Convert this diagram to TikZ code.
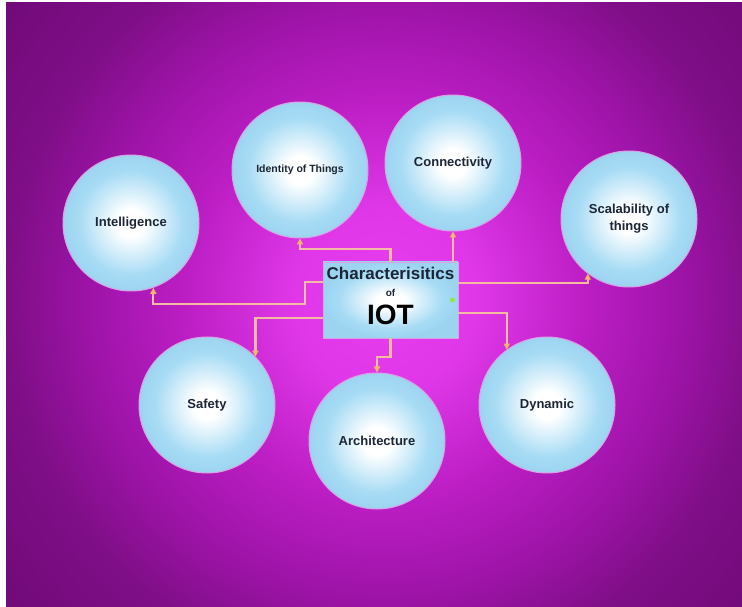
\documentclass[tikz,border=0pt]{standalone}
\usepackage{amsmath,tikz,tkz-euclide}
\usepackage{fontspec}
\setmainfont{Liberation Sans}
\usetikzlibrary{arrows.meta}
\definecolor{bgin}{HTML}{E63EEE}
\definecolor{bgnear}{HTML}{E038E9}
\definecolor{bgmid}{HTML}{BC1EC4}
\definecolor{bgedge}{HTML}{A014AA}
\definecolor{bgfar}{HTML}{7E0E86}
\definecolor{bgout}{HTML}{720A7A}
\definecolor{bubblue}{HTML}{A8DCF5}
\definecolor{bubdeep}{HTML}{9CD4F0}
\definecolor{bubedge}{HTML}{D8A2E4}
\definecolor{ink}{HTML}{1B2636}
\definecolor{linkcol}{HTML}{F5BBA2}
\definecolor{tipcol}{HTML}{F2B866}
\definecolor{dotgreen}{HTML}{8EE84A}
\pgfdeclareradialshading{bgglow}{\pgfpointorigin}{color(0bp)=(bgin); color(4bp)=(bgnear); color(8.9bp)=(bgmid); color(12.9bp)=(bgedge); color(17bp)=(bgfar); color(21.4bp)=(bgout); color(50bp)=(bgout)}
\pgfdeclareradialshading{bubshade}{\pgfpointorigin}{color(0bp)=(white); color(5bp)=(white); color(19bp)=(bubblue); color(25bp)=(bubdeep); color(50bp)=(bubdeep)}
\tikzset{
  bubble/.style={circle,minimum size=136pt,inner sep=0pt,shade,shading=bubshade,draw=bubedge,line width=1pt,text=ink,align=center,font=\bfseries\fontsize{13}{17}\selectfont},
  iotbox/.style={rectangle,minimum width=135pt,minimum height=76pt,inner sep=0pt,shade,shading=bubshade,draw=bubedge,line width=0.6pt},
  link/.style={draw=linkcol,line width=2.2pt,-{Triangle[width=6pt,length=6pt,color=tipcol]}}
}
\begin{document}
\begin{tikzpicture}[x=1pt,y=1pt]
\useasboundingbox (0,0) rectangle (742,606);
\fill[white] (0,0) rectangle (742,606);
\begin{scope}
\clip (6,0) rectangle (742,603);
\shade[shading=bgglow] (385,306) circle (560);
\end{scope}
\tkzDefPoint(131,383){A}
\tkzDefPoint(300,436){B}
\tkzDefPoint(453,443){C}
\tkzDefPoint(629,387){D}
\tkzDefPoint(207,201){E}
\tkzDefPoint(377,165){F}
\tkzDefPoint(547,201){G}
\tkzDefPoint(390.5,306){O}
\node[bubble] (intel) at (A) {Intelligence};
\node[bubble,font=\bfseries\fontsize{10.5}{13}\selectfont] (ident) at (B) {Identity of Things};
\node[bubble] (conn) at (C) {Connectivity};
\node[bubble] (scal) at (D) {Scalability of\\things};
\node[bubble] (safe) at (E) {Safety};
\node[bubble] (arch) at (F) {Architecture};
\node[bubble] (dyn) at (G) {Dynamic};
\node[iotbox] (iot) at (O) {};
\node[text=ink,font=\bfseries\fontsize{17}{20}\selectfont] (chr) at ([yshift=27pt]iot.center) {Characterisitics};
\node[text=ink,font=\bfseries\fontsize{10}{12}\selectfont] (ofw) at ([yshift=7pt]iot.center) {of};
\node[text=black,font=\bfseries\fontsize{28}{30}\selectfont] (iotw) at ([yshift=-15pt]iot.center) {IOT};
\fill[dotgreen] ([xshift=-6pt]iot.east) circle (2.5);
\draw[link] (iot.north) -- ++(0,13) -| (ident.south);
\draw[link] (iot.north -| conn.south) -- (conn.south);
\draw[link] ([yshift=18pt]iot.west) -- ++(-18,0) -- ++(0,-22) -| (intel.-71);
\draw[link] ([yshift=-18pt]iot.west) -| (safe.45);
\draw[link] ([yshift=17pt]iot.east) -| (scal.233);
\draw[link] ([yshift=-13pt]iot.east) -| (dyn.126);
\draw[link] (iot.south) -- ++(0,-19) -| (arch.north);
\end{tikzpicture}
\end{document}
